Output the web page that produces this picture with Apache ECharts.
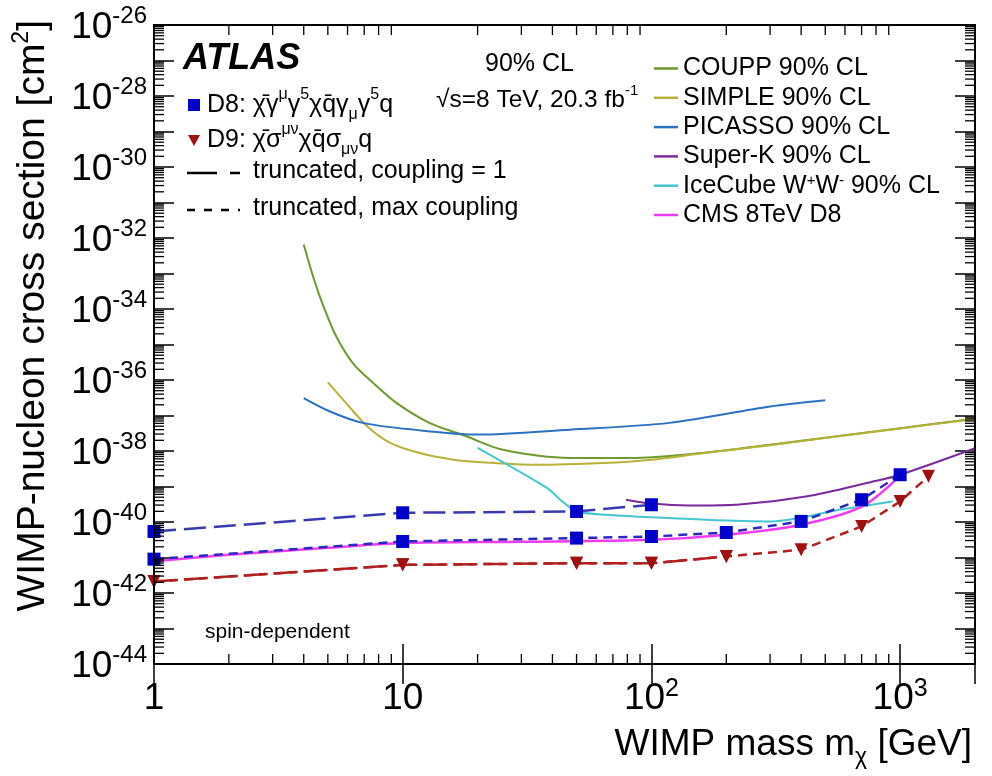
<!DOCTYPE html>
<html><head><meta charset="utf-8">
<script src="https://cdn.jsdelivr.net/npm/echarts@6/dist/echarts.min.js"></script>
<style>html,body{margin:0;padding:0;background:#fff}#c{width:992px;height:776px}</style>
</head><body><div id="c"></div>
<script>
const FONT = '"Liberation Sans", Arial, Helvetica, sans-serif';

// ---------- data (WIMP mass [GeV], cross section [cm^2]) ----------
const couppMass = [4, 4.4, 4.8, 5.4, 6.3, 7.6, 9.4, 12.8, 18, 25, 47, 87, 160, 300, 600, 1000, 2000];
const couppXsec = [6.6e-33, 6.8e-34, 1.2e-34, 1.7e-35, 3.0e-36, 8.3e-37, 2.3e-37, 6.2e-38, 2.6e-38, 1.1e-38, 6.4e-39, 6.4e-39, 8.8e-39, 1.5e-38, 2.8e-38, 4.4e-38, 8.1e-38];

const simpleMass = [5, 5.9, 7.2, 8.9, 11.7, 16, 20, 34, 64, 100, 160, 300, 600, 1000, 2000];
const simpleXsec = [8.6e-37, 2.3e-37, 5.0e-38, 1.7e-38, 8.8e-39, 5.7e-39, 4.9e-39, 4.1e-39, 4.6e-39, 5.7e-39, 8.6e-39, 1.45e-38, 2.75e-38, 4.3e-38, 8.0e-38];

const picassoMass = [4, 5.1, 6.9, 11, 20, 47, 118, 300, 500];
const picassoXsec = [3.1e-37, 1.3e-37, 6.2e-38, 4.0e-38, 2.9e-38, 4.0e-38, 6.2e-38, 1.8e-37, 2.7e-37];

const superkMass = [79, 100, 142, 226, 418, 772, 1000, 2000];
const superkXsec = [4.25e-40, 3.3e-40, 2.9e-40, 3.1e-40, 5.2e-40, 1.36e-39, 2.15e-39, 1.2e-38];

const icecubeMass = [20, 38, 43, 50, 66, 166, 306, 569, 929];
const icecubeXsec = [1.22e-38, 9.1e-40, 4.25e-40, 2.0e-40, 1.6e-40, 1.16e-40, 1.04e-40, 2.2e-40, 3.8e-40];

const cmsMass = [1, 2, 5, 10, 30, 100, 200, 400, 700, 1000];
const cmsXsec = [7.8e-42, 1.19e-41, 1.87e-41, 2.55e-41, 2.77e-41, 3.15e-41, 4.37e-41, 8.35e-41, 2.69e-40, 2.02e-39];

const d8c1Mass = [1, 10, 50, 100];
const d8c1Xsec = [5.4e-41, 1.82e-40, 1.98e-40, 3.06e-40];

const d8maxMass = [1, 10, 50, 100, 200, 400, 700, 1000];
const d8maxXsec = [9.0e-42, 2.83e-41, 3.52e-41, 3.9e-41, 5.07e-41, 1.04e-40, 4.25e-40, 2.15e-39];

const d9c1Mass = [1, 10, 50, 100, 200];
const d9c1Xsec = [2.1e-42, 6.2e-42, 6.9e-42, 6.9e-42, 1.07e-41];

const d9maxMass = [1, 10, 50, 100, 200, 400, 700, 1000, 1300];
const d9maxXsec = [2.1e-42, 6.2e-42, 6.9e-42, 6.9e-42, 1.07e-41, 1.65e-41, 7.5e-41, 3.8e-40, 1.93e-39];

// axis ranges
const xMin = 1, xMax = 2000;
const yMin = 1e-44, yMax = 1e-26;

// ---------- helpers ----------
const zip = (a, b) => a.map((v, i) => [v, b[i]]);
function isPow10(v) { const l = Math.log10(v); return v > 0 && isFinite(l) && Math.abs(l - Math.round(l)) < 1e-6; }

const xMinorTicks = [];
for (let e = 0; e <= 3; e++) for (let d = 2; d <= 9; d++) { const v = d * Math.pow(10, e); if (v < xMax) xMinorTicks.push(v); }
const yMinorTicks = [];
for (let e = -44; e <= -27; e++) for (let d = 2; d <= 9; d++) yMinorTicks.push(d * Math.pow(10, e));

const xRich = {
  b: { fontSize: 37, fontFamily: FONT, color: '#000', lineHeight: 44, verticalAlign: 'middle' },
  s: { fontSize: 25, fontFamily: FONT, color: '#000', lineHeight: 25, verticalAlign: 'top' }
};
const yRich = {
  b: { fontSize: 37, fontFamily: FONT, color: '#000', lineHeight: 30, verticalAlign: 'bottom' },
  s: { fontSize: 24, fontFamily: FONT, color: '#000', lineHeight: 22, verticalAlign: 'top' },
  h: { fontSize: 10, fontFamily: FONT, color: '#000', lineHeight: 42, verticalAlign: 'middle' }
};
const yRichG = {
  b: { fontSize: 37, fontFamily: FONT, fill: '#000', lineHeight: 30, verticalAlign: 'bottom' },
  s: { fontSize: 24, fontFamily: FONT, fill: '#000', lineHeight: 22, verticalAlign: 'top' },
  h: { fontSize: 10, fontFamily: FONT, fill: '#000', lineHeight: 42, verticalAlign: 'middle' }
};
const yMinExp = Math.round(Math.log10(yMin));
function yLabel(v) {
  if (!isPow10(v)) return '';
  const e = Math.round(Math.log10(v));
  if (e === yMinExp || e % 2 !== 0) return '';
  return '{b|10}{s|' + e + '}{h|\u200b}';
}

function expLine(name, color, mass, xsec, width) {
  return {
    name: name, type: 'line', data: zip(mass, xsec), symbol: 'none', showSymbol: false, smooth: 0.3,
    lineStyle: { color: color, width: width || 2 }, itemStyle: { color: color },
    xAxisIndex: 0, yAxisIndex: 0, z: 2, silent: true
  };
}
function limLine(mass, xsec, lineColor, markColor, symbol, dash, rotate) {
  return {
    type: 'line', data: zip(mass, xsec), symbol: symbol, symbolSize: 13, showSymbol: true,
    symbolRotate: rotate || 0,
    lineStyle: { color: lineColor, width: 2.5, type: dash }, itemStyle: { color: markColor },
    xAxisIndex: 0, yAxisIndex: 0, z: 4, silent: true
  };
}

const chart = echarts.init(document.getElementById('c'), null, { renderer: 'canvas' });

const tickLine = { show: true, inside: true, length: 20, lineStyle: { color: '#000', width: 1.5 } };
const axLine = { show: true, lineStyle: { color: '#000', width: 2 } };

const subRich = {
  m: { fontSize: 25, fontFamily: FONT, fill: '#000', lineHeight: 36, verticalAlign: 'middle' },
  sup: { fontSize: 16, fontFamily: FONT, fill: '#000', lineHeight: 16, verticalAlign: 'top' },
  sub: { fontSize: 16, fontFamily: FONT, fill: '#000', lineHeight: 16, verticalAlign: 'bottom' }
};

const option = {
  animation: false,
  backgroundColor: '#fff',
  grid: { left: 154, top: 25, width: 821, height: 639, show: false, outerBoundsMode: 'none' },
  xAxis: [
    { type: 'log', logBase: 10, min: xMin, max: xMax, interval: 1, position: 'bottom',
      axisLine: axLine, axisTick: tickLine, splitLine: { show: false },
      axisLabel: { margin: 13, rich: xRich, showMinLabel: true, showMaxLabel: true,
        formatter: v => { if (!isPow10(v)) return ''; const e = Math.round(Math.log10(v));
          if (e === 0) return '{b|1}'; if (e === 1) return '{b|10}'; return '{b|10}{s|' + e + '}'; } } },
    { type: 'log', logBase: 10, min: xMin, max: xMax, interval: 1, position: 'top',
      axisLine: axLine, axisTick: tickLine, splitLine: { show: false }, axisLabel: { show: false } }
  ],
  yAxis: [
    { type: 'log', logBase: 10, min: yMin, max: yMax, interval: 1, position: 'left',
      axisLine: axLine, axisTick: tickLine, splitLine: { show: false },
      axisLabel: { margin: 7, rich: yRich, showMinLabel: true, showMaxLabel: true, hideOverlap: false,
        formatter: yLabel } },
    { type: 'log', logBase: 10, min: yMin, max: yMax, interval: 1, position: 'right',
      axisLine: axLine, axisTick: tickLine, splitLine: { show: false }, axisLabel: { show: false } }
  ],
  legend: {
    data: ['COUPP 90% CL', 'SIMPLE 90% CL', 'PICASSO 90% CL', 'Super-K 90% CL', 'IceCube W+W- 90% CL', 'CMS 8TeV D8'],
    orient: 'vertical', left: 649, top: 51, itemWidth: 24, itemHeight: 2.5, itemGap: 4.3, icon: 'rect',
    selectedMode: false,
    textStyle: { fontSize: 25, fontFamily: FONT, color: '#000', lineHeight: 25,
      rich: { sup: { fontSize: 15, fontFamily: FONT, color: '#000', verticalAlign: 'top', lineHeight: 15 } } },
    formatter: n => n === 'IceCube W+W- 90% CL' ? 'IceCube W{sup|+}W{sup|-} 90% CL' : n
  },
  graphic: [
    { type: 'text', left: 183, top: 41, style: { text: 'ATLAS', font: 'italic bold 36px ' + FONT, fill: '#000' } },
    { type: 'text', left: 485, top: 52, style: { text: '90% CL', font: '25px ' + FONT, fill: '#000' } },
    { type: 'text', left: 436, top: 83, style: { text: '{m|√s=8 TeV, 20.3 fb}{sup|-1}', rich: {
        m: { fontSize: 24.5, fontFamily: FONT, fill: '#000', lineHeight: 34, verticalAlign: 'middle' },
        sup: { fontSize: 15, fontFamily: FONT, fill: '#000', lineHeight: 15, verticalAlign: 'top' } } } },
    // D8 legend entry
    { type: 'rect', shape: { x: 188, y: 99, width: 12, height: 12 }, style: { fill: '#0000cc' } },
    { type: 'text', left: 207, top: 87, style: {
        text: '{m|D8: χ̄γ}{sup|μ}{m|γ}{sup|5}{m|χq̄γ}{sub|μ}{m|γ}{sup|5}{m|q}', rich: subRich } },
    // D9 legend entry
    { type: 'polygon', shape: { points: [[188, 135], [200, 135], [194, 146]] }, style: { fill: '#a01010' } },
    { type: 'text', left: 207, top: 122, style: {
        text: '{m|D9: χ̄σ}{sup|μν}{m|χq̄σ}{sub|μν}{m|q}', rich: subRich } },
    // line-style legend entries
    { type: 'line', shape: { x1: 187, y1: 173, x2: 240, y2: 173 }, style: { stroke: '#000', lineWidth: 2.5, lineDash: [30, 13] } },
    { type: 'text', left: 253, top: 159, style: { text: 'truncated, coupling = 1', font: '25px ' + FONT, fill: '#000' } },
    { type: 'line', shape: { x1: 187, y1: 210, x2: 240, y2: 210 }, style: { stroke: '#000', lineWidth: 2.5, lineDash: [8, 9] } },
    { type: 'text', left: 253, top: 196, style: { text: 'truncated, max coupling', font: '25px ' + FONT, fill: '#000' } },
    { type: 'text', left: 205, top: 622, style: { text: 'spin-dependent', font: '21px ' + FONT, fill: '#000' } },
    // axis titles
    { type: 'text', x: 33, y: 20, rotation: Math.PI / 2, style: {
        text: '{t|WIMP-nucleon cross section [cm}{s|2}{t|]}', align: 'right', verticalAlign: 'middle', rich: {
        t: { fontSize: 39, fontFamily: FONT, fill: '#000', lineHeight: 46, verticalAlign: 'middle' },
        s: { fontSize: 23, fontFamily: FONT, fill: '#000', lineHeight: 23, verticalAlign: 'top' } } } },
    { type: 'text', x: 972, y: 745, style: {
        text: '{t|WIMP mass m}{s|χ}{t| [GeV]}', align: 'right', verticalAlign: 'middle', rich: {
        t: { fontSize: 37, fontFamily: FONT, fill: '#000', lineHeight: 48, verticalAlign: 'middle' },
        s: { fontSize: 23, fontFamily: FONT, fill: '#000', lineHeight: 23, verticalAlign: 'bottom' } } } },
    // plot frame
    { type: 'rect', shape: { x: 154, y: 25, width: 821, height: 639 }, style: { fill: 'none', stroke: '#000', lineWidth: 2 }, z: 100, silent: true }
  ],
  series: [
    expLine('COUPP 90% CL', '#6f9a2e', couppMass, couppXsec),
    expLine('SIMPLE 90% CL', '#b8b338', simpleMass, simpleXsec),
    expLine('PICASSO 90% CL', '#2b72c2', picassoMass, picassoXsec),
    expLine('Super-K 90% CL', '#7b2a9c', superkMass, superkXsec),
    expLine('IceCube W+W- 90% CL', '#45c6d2', icecubeMass, icecubeXsec),
    expLine('CMS 8TeV D8', '#f03cf0', cmsMass, cmsXsec, 2.5),
    limLine(d8c1Mass, d8c1Xsec, '#3a3ab0', '#0000cc', 'rect', [22, 8]),
    limLine(d8maxMass, d8maxXsec, '#2a2ac0', '#0000cc', 'rect', [9, 6]),
    limLine(d9c1Mass, d9c1Xsec, '#b02020', '#a01010', 'triangle', [22, 8], 180),
    limLine(d9maxMass, d9maxXsec, '#b02020', '#a01010', 'triangle', [9, 6], 180),
    {
      type: 'custom', data: [[xMin, 1e-40]], silent: true, z: 10, clip: false,
      renderItem: (params, api) => {
        const cs = params.coordSys;
        const L = cs.x, R = cs.x + cs.width, T = cs.y, B = cs.y + cs.height;
        const st = { stroke: '#000', lineWidth: 1.3 };
        const ch = [];
        xMinorTicks.forEach(v => { const px = api.coord([v, 1e-40])[0];
          ch.push({ type: 'line', shape: { x1: px, y1: B, x2: px, y2: B - 10 }, style: st });
          ch.push({ type: 'line', shape: { x1: px, y1: T, x2: px, y2: T + 10 }, style: st }); });
        yMinorTicks.forEach(v => { const py = api.coord([xMin, v])[1];
          ch.push({ type: 'line', shape: { x1: L, y1: py, x2: L + 10, y2: py }, style: st });
          ch.push({ type: 'line', shape: { x1: R, y1: py, x2: R - 10, y2: py }, style: st }); });
        return { type: 'group', children: ch };
      }
    }
  ]
};
chart.setOption(option);

// lowest y label (10^-44), placed through the axis scale
const minPy = chart.convertToPixel({ yAxisIndex: 0 }, yMin);
const option2 = { graphic: option.graphic.concat([
  { type: 'text', x: 154 - 7, y: minPy, z: 50, style: {
      text: '{b|10}{s|' + yMinExp + '}{h|\u200b}', align: 'right', verticalAlign: 'middle', rich: yRichG } }
]) };
chart.setOption(option2);
</script></body></html>
